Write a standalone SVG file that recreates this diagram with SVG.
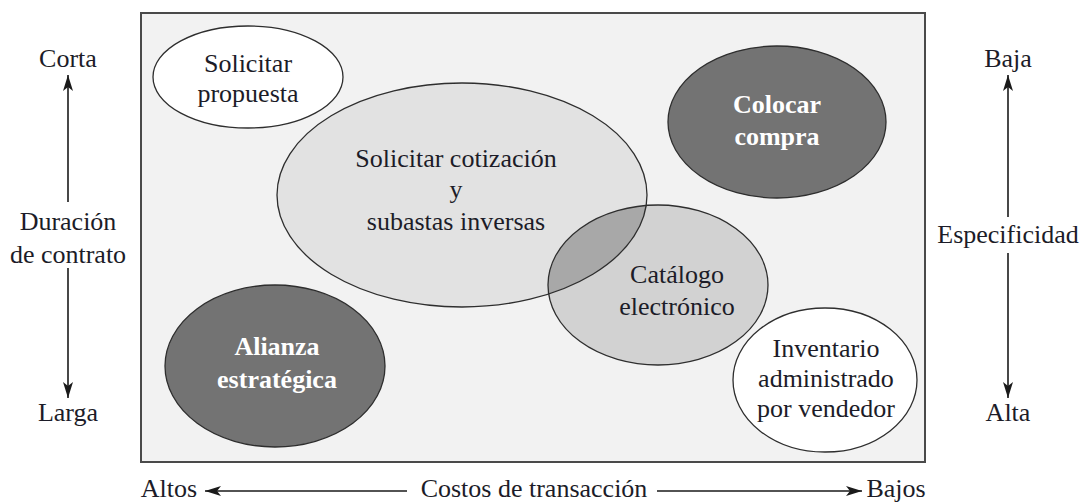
<svg xmlns="http://www.w3.org/2000/svg" width="1083" height="502" viewBox="0 0 1083 502" font-family="'Liberation Serif', 'Times New Roman', serif">
<style>
text{font-family:"Liberation Serif","Times New Roman",serif;font-size:26px;fill:#1c1c28;text-anchor:middle}
.w{fill:#ffffff;font-weight:bold}
.e{stroke:#2e2e2e;stroke-width:1.3}
.ax{stroke:#1a1a1a;stroke-width:1.6;fill:none}
</style>
<defs>
<marker id="ah" viewBox="0 0 16 10" refX="16" refY="5" markerWidth="16" markerHeight="10" markerUnits="userSpaceOnUse" orient="auto">
<path d="M0,0 L16,5 L0,10 L4,5 Z" fill="#1a1a1a"/>
</marker>
<clipPath id="bigclip"><ellipse cx="462" cy="195" rx="185" ry="112"/></clipPath>
</defs>
<rect x="141" y="13" width="784" height="449" fill="#f2f2f2" stroke="#4a4a4a" stroke-width="2"/>
<g id="solicitar-propuesta">
<ellipse class="e" cx="248" cy="77" rx="95" ry="51" fill="#ffffff"/>
<text x="248" y="72">Solicitar</text>
<text x="248" y="102">propuesta</text>
</g>
<g id="colocar-compra">
<ellipse class="e" cx="777" cy="122" rx="109" ry="76" fill="#737373"/>
<text class="w" x="777" y="113">Colocar</text>
<text class="w" x="777" y="145">compra</text>
</g>
<g id="solicitar-cotizacion">
<ellipse cx="462" cy="195" rx="185" ry="112" fill="#e2e2e2"/>
</g>
<g id="catalogo-electronico">
<ellipse cx="658" cy="285" rx="110" ry="80" fill="#d2d2d2"/>
<ellipse cx="658" cy="285" rx="110" ry="80" fill="#a8a8a8" clip-path="url(#bigclip)"/>
<ellipse class="e" cx="658" cy="285" rx="110" ry="80" fill="none"/>
<text x="677" y="283">Catálogo</text>
<text x="677" y="315">electrónico</text>
</g>
<g id="solicitar-cotizacion-label">
<ellipse class="e" cx="462" cy="195" rx="185" ry="112" fill="none"/>
<text x="456" y="167">Solicitar cotización</text>
<text x="456" y="198">y</text>
<text x="456" y="230">subastas inversas</text>
</g>
<g id="alianza-estrategica">
<ellipse class="e" cx="275" cy="366" rx="110" ry="81" fill="#737373"/>
<text class="w" x="277" y="355">Alianza</text>
<text class="w" x="277" y="388">estratégica</text>
</g>
<g id="inventario">
<ellipse class="e" cx="825" cy="380" rx="92" ry="72" fill="#ffffff"/>
<text x="826" y="357">Inventario</text>
<text x="826" y="387">administrado</text>
<text x="826" y="417">por vendedor</text>
</g>
<g id="axis-labels">
<text x="68" y="67">Corta</text>
<text x="68" y="230">Duración</text>
<text x="68" y="263">de contrato</text>
<text x="68" y="421">Larga</text>
<text x="1008" y="67">Baja</text>
<text x="1008" y="243">Especificidad</text>
<text x="1008" y="421">Alta</text>
<text x="169" y="497">Altos</text>
<text x="534" y="497">Costos de transacción</text>
<text x="896" y="497">Bajos</text>
</g>
<g id="connectors">
<line class="ax" x1="68" y1="202" x2="68" y2="75" marker-end="url(#ah)"/>
<line class="ax" x1="68" y1="268" x2="68" y2="398" marker-end="url(#ah)"/>
<line class="ax" x1="1008" y1="217" x2="1008" y2="75" marker-end="url(#ah)"/>
<line class="ax" x1="1008" y1="253" x2="1008" y2="398" marker-end="url(#ah)"/>
<line class="ax" x1="407" y1="491" x2="205" y2="491" marker-end="url(#ah)"/>
<line class="ax" x1="657" y1="491" x2="862" y2="491" marker-end="url(#ah)"/>
</g>
</svg>
